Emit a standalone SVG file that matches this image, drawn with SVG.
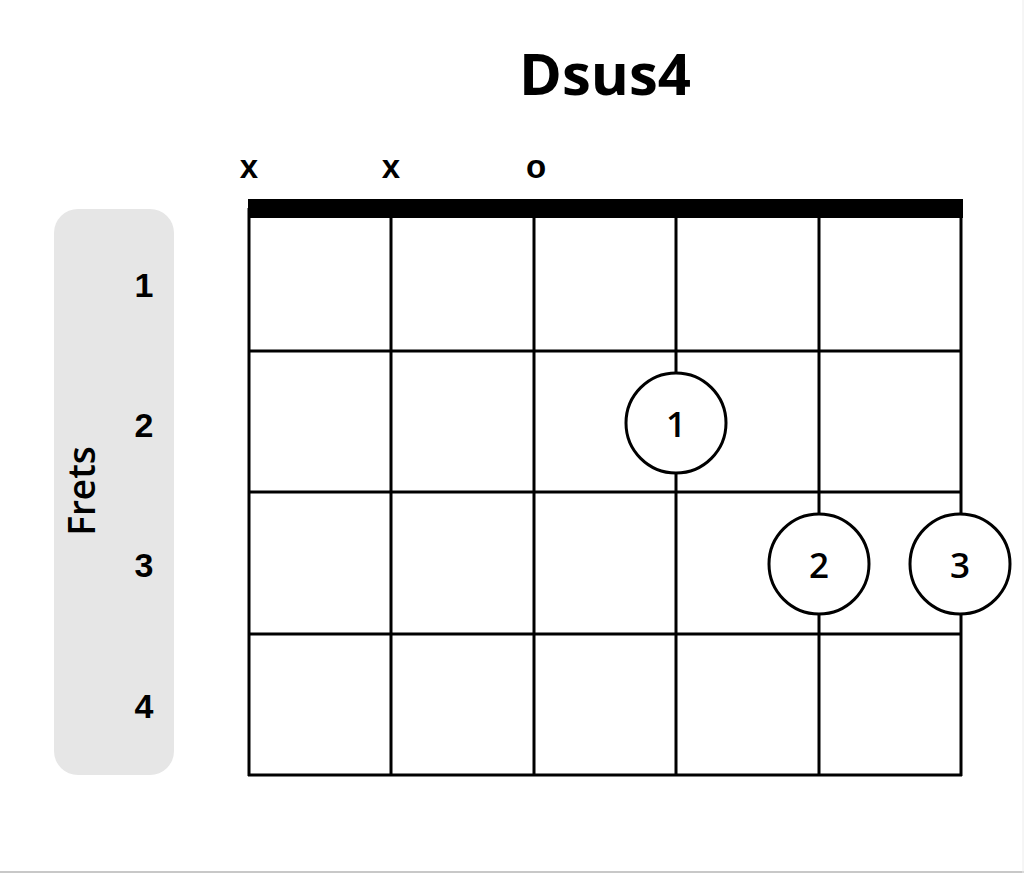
<svg xmlns="http://www.w3.org/2000/svg" width="1024" height="873" viewBox="0 0 1024 873">
<style>
.grid{stroke:#000;stroke-width:3;fill:none}
.fing{fill:#fff;stroke:#000;stroke-width:3}
.fnum{font-family:"Open Sans",sans-serif;font-weight:600;font-size:35px;fill:#000;text-anchor:middle;dominant-baseline:central}
.fret{font-family:"Liberation Sans",Arial,sans-serif;font-weight:bold;font-size:34px;fill:#000;text-anchor:middle}
.mute{font-family:"Liberation Sans",Arial,sans-serif;font-weight:bold;font-size:33px;fill:#000;text-anchor:middle}
</style>
<rect width="1024" height="873" fill="#fff"/>
<line x1="0" y1="872" x2="1024" y2="872" stroke="#c8c8c8" stroke-width="2"/>
<line x1="1023" y1="0" x2="1023" y2="873" stroke="#ececec" stroke-width="1"/>
<text x="605" y="95" font-family="'Open Sans',sans-serif" font-weight="bold" font-size="58" text-anchor="middle">Dsus4</text>
<g id="fret-panel">
<rect x="54" y="209" width="120" height="566" rx="24" fill="#e6e6e6"/>
<text transform="translate(95,491) rotate(-90)" font-family="'Open Sans',sans-serif" font-weight="600" font-size="37" text-anchor="middle">Frets</text>
<text class="fret" x="144" y="297">1</text>
<text class="fret" x="144" y="437">2</text>
<text class="fret" x="144" y="577">3</text>
<text class="fret" x="144" y="718">4</text>
</g>
<g id="string-marks">
<text class="mute" x="249" y="178">x</text>
<text class="mute" x="391" y="178">x</text>
<text class="mute" x="536" y="178">o</text>
</g>
<g id="connectors">
<rect x="248" y="199" width="715" height="19" fill="#000"/>
<line class="grid" x1="249" y1="208" x2="249" y2="776"/>
<line class="grid" x1="391" y1="208" x2="391" y2="776"/>
<line class="grid" x1="534" y1="208" x2="534" y2="776"/>
<line class="grid" x1="676" y1="208" x2="676" y2="776"/>
<line class="grid" x1="819" y1="208" x2="819" y2="776"/>
<line class="grid" x1="961" y1="208" x2="961" y2="776"/>
<line class="grid" x1="248" y1="351" x2="962" y2="351"/>
<line class="grid" x1="248" y1="492" x2="962" y2="492"/>
<line class="grid" x1="248" y1="634" x2="962" y2="634"/>
<line class="grid" x1="248" y1="775" x2="962" y2="775"/>
</g>
<g id="finger-1"><circle class="fing" cx="676" cy="423" r="50"/><text class="fnum" x="676" y="423">1</text></g>
<g id="finger-2"><circle class="fing" cx="819" cy="564" r="50"/><text class="fnum" x="819" y="564">2</text></g>
<g id="finger-3"><circle class="fing" cx="960" cy="564" r="50"/><text class="fnum" x="960" y="564">3</text></g>
</svg>
